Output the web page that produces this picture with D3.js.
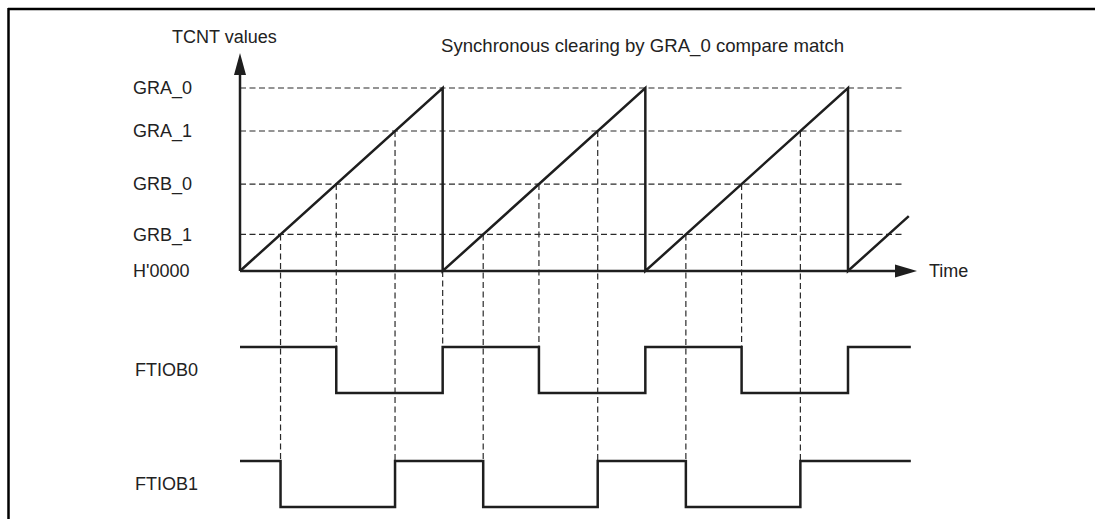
<!DOCTYPE html>
<html>
<head>
<meta charset="utf-8">
<script src="https://cdn.jsdelivr.net/npm/d3@7"></script>
<style>
  html, body { margin: 0; padding: 0; background: #fff; }
  svg { display: block; }
  text { font-family: "Liberation Sans", Arial, Helvetica, sans-serif; font-size: 18px; fill: #222; }
</style>
</head>
<body>
<svg id="chart" width="1095" height="519"></svg>
<script>
// ---- data ----
const compareNames = ["GRA_0", "GRA_1", "GRB_0", "GRB_1", "H'0000"];
const compareValues = [100, 76.5, 47.5, 20, 0];       // TCNT counts (GRA_0 = full scale)
const periodStarts = [0, 1, 2, 3];                      // TCNT cleared at GRA_0 match
const lastRampEnd = 3.3;                                // partial ramp after last clear
const signalNames = ["FTIOB0", "FTIOB1"];
// compare match: [register, signal, output level after match]
const outputActions = [
  ["GRB_0", "FTIOB0", 0], ["GRA_0", "FTIOB0", 1],
  ["GRB_1", "FTIOB1", 0], ["GRA_1", "FTIOB1", 1]
];
const signalEnd = 3.31;
const boundaryGuides = [1];
const titleText = "Synchronous clearing by GRA_0 compare match";
const yAxisTitle = "TCNT values";
const xAxisTitle = "Time";

// ---- drawing ----
const svg = d3.select("#chart");
const ink = "#1e1e1e";
const dashInk = "#2a2a2a";
const val = Object.fromEntries(compareNames.map((n, i) => [n, compareValues[i]]));
const lastStart = periodStarts[periodStarts.length - 1];

const x = d3.scaleLinear().domain([0, 3]).range([240, 848]);
const y = d3.scaleLinear().domain([0, 100]).range([271, 88]);
const row = d3.scalePoint().domain(signalNames).range([347, 461]);
const lvl = d3.scaleLinear().domain([1, 0]).range([0, 46]);

// frame (top + left)
svg.append("line").attr("x1", 8).attr("x2", 1095).attr("y1", 9).attr("y2", 9)
  .attr("stroke", "#000").attr("stroke-width", 2.5);
svg.append("line").attr("x1", 8.5).attr("x2", 8.5).attr("y1", 8).attr("y2", 519)
  .attr("stroke", "#000").attr("stroke-width", 2.5);

// horizontal dashed guides
svg.append("g").selectAll("line")
  .data(compareNames.filter(n => val[n] > 0))
  .join("line")
  .attr("x1", x(0)).attr("x2", x(3.27))
  .attr("y1", d => y(val[d])).attr("y2", d => y(val[d]))
  .attr("stroke", dashInk).attr("stroke-width", 1.2).attr("stroke-dasharray", "6,3.5");

// vertical dashed guides from compare matches to signal rows
const vGuides = [];
periodStarts.slice(0, 3).forEach(p => {
  outputActions.forEach(([reg, sig]) => {
    if (reg === "GRA_0") return;
    vGuides.push({ t: p + val[reg] / 100, y1: y(val[reg]), y2: row(sig) + lvl(1) });
  });
});
boundaryGuides.forEach(t => vGuides.push({ t, y1: y(0), y2: row("FTIOB0") + lvl(1) }));
svg.append("g").selectAll("line")
  .data(vGuides).join("line")
  .attr("x1", d => x(d.t)).attr("x2", d => x(d.t))
  .attr("y1", d => d.y1).attr("y2", d => d.y2)
  .attr("stroke", dashInk).attr("stroke-width", 1.2).attr("stroke-dasharray", "6,3.5");

// axes with arrowheads
svg.append("line").attr("x1", x(0)).attr("x2", x(0)).attr("y1", y(0)).attr("y2", 68)
  .attr("stroke", ink).attr("stroke-width", 2.5);
svg.append("path").attr("d", `M${x(0)},53 L${x(0) - 6},75 L${x(0) + 6},75 Z`).attr("fill", ink);
svg.append("line").attr("x1", x(0)).attr("x2", 902).attr("y1", y(0)).attr("y2", y(0))
  .attr("stroke", ink).attr("stroke-width", 2.5);
svg.append("path").attr("d", `M917,${y(0)} L895,${y(0) - 6.5} L895,${y(0) + 6.5} Z`).attr("fill", ink);

// sawtooth TCNT
const ramp = [];
periodStarts.forEach((p, i) => {
  ramp.push([p, 0]);
  if (i < periodStarts.length - 1) ramp.push([periodStarts[i + 1], val["GRA_0"]]);
});
ramp.push([lastRampEnd, (lastRampEnd - lastStart) * 100]);
svg.append("path")
  .attr("d", d3.line().x(d => x(d[0])).y(d => y(d[1]))(ramp))
  .attr("fill", "none").attr("stroke", ink).attr("stroke-width", 2.5)
  .attr("stroke-linejoin", "miter");

// output waveforms
signalNames.forEach(sig => {
  const events = [[0, 1]];
  periodStarts.forEach(p => {
    outputActions.filter(a => a[1] === sig).forEach(([reg, , lv]) => {
      const t = reg === "GRA_0" ? p : p + val[reg] / 100;
      if (t > 0 && t <= lastStart) events.push([t, lv]);
    });
  });
  events.sort((a, b) => a[0] - b[0]);
  events.push([signalEnd, events[events.length - 1][1]]);
  svg.append("path")
    .attr("d", d3.line().curve(d3.curveStepAfter).x(d => x(d[0])).y(d => row(sig) + lvl(d[1]))(events))
    .attr("fill", "none").attr("stroke", ink).attr("stroke-width", 2.5);
  svg.append("text").attr("x", 135).attr("y", row(sig) + lvl(0.5)).attr("dy", "0.35em").text(sig);
});

// labels
svg.append("g").selectAll("text")
  .data(compareNames).join("text")
  .attr("x", 133).attr("y", d => y(val[d])).attr("dy", "0.35em")
  .text(d => d);
svg.append("text").attr("x", 172).attr("y", 43).text(yAxisTitle);
svg.append("text").attr("x", 441).attr("y", 52).style("font-size", "18.6px").text(titleText);
svg.append("text").attr("x", 929).attr("y", y(0)).attr("dy", "0.35em").text(xAxisTitle);
</script>
</body>
</html>
